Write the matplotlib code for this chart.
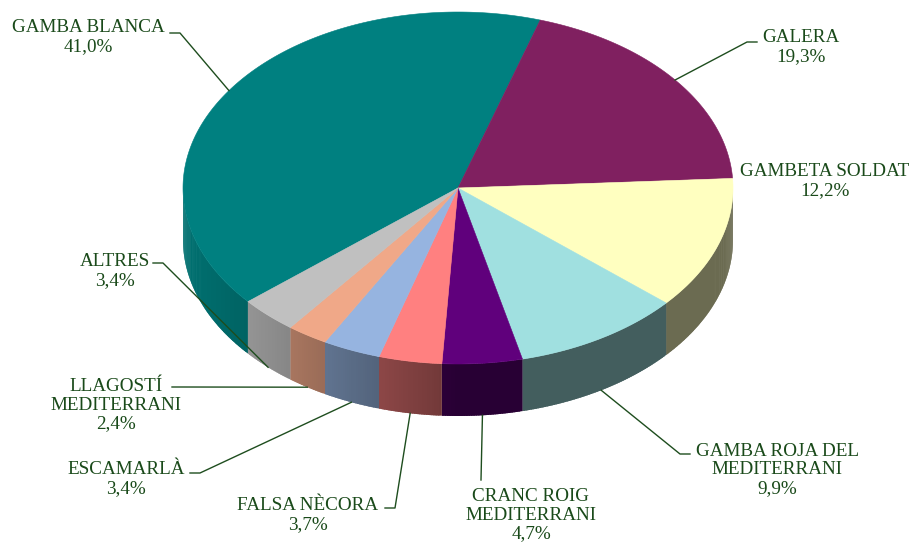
import numpy as np
import matplotlib
matplotlib.use('Agg')
import matplotlib.pyplot as plt
from matplotlib.patches import Polygon
from matplotlib.colors import to_rgb

# 数据
labels = ['GAMBA BLANCA', 'GALERA', 'GAMBETA SOLDAT', 'GAMBA ROJA DEL\nMEDITERRANI',
          'CRANC ROIG\nMEDITERRANI', 'FALSA NÈCORA', 'ESCAMARLÀ',
          'LLAGOSTÍ\nMEDITERRANI', 'ALTRES']
values = [41.0, 19.3, 12.2, 9.9, 4.7, 3.7, 3.4, 2.4, 3.4]
colors = ['#008080', '#802060', '#FFFFC0', '#A0E0E0', '#60007C',
          '#FF8080', '#96B4E0', '#F0A888', '#C0C0C0']

# 布局 (像素坐标)
cx, cy, rx, ry, depth = 458, 188, 275, 176, 52
start_angle = 220.2
# 标签中心, 引线起点
label_pos = [(88, 37), (801, 47), (825, 181), (777, 470), (531, 515),
             (308, 515), (126, 479), (116, 405), (115, 271)]
leader_start = [(170, 33), (757, 42), None, (690, 454), (481, 480),
                (385, 508), (190, 473), (172, 387), (153, 263)]
text_color = '#1A4A1A'
line_color = '#1E4D1E'

fig = plt.figure(figsize=(9.16, 5.44), dpi=100)
ax = fig.add_axes([0, 0, 1, 1])
ax.set_xlim(0, 916)
ax.set_ylim(544, 0)
ax.axis('off')


def pt(t_deg, dz=0):
    t = np.radians(t_deg)
    return cx + rx * np.cos(t), cy - ry * np.sin(t) + dz


total = sum(values)
angles = []
a = start_angle
for v in values:
    span = v / total * 360
    angles.append((a, a - span))
    a -= span

# 侧面 (分条渐变)
for (a0, a1), c in zip(angles, colors):
    base = np.array(to_rgb(c))
    ts = np.arange(a0, a1, -0.5)
    ts = np.append(ts, a1)
    for t0, t1 in zip(ts[:-1], ts[1:]):
        tm = np.radians((t0 + t1) / 2)
        if np.sin(tm) >= 0:
            continue
        f = 0.42 + 0.46 * max(-np.cos(tm), 0)
        col = np.clip(base * f, 0, 1)
        t1e = max(t1 - 0.4, a1)  # 稍微重叠, 避免缝隙
        arc = [pt(t) for t in np.linspace(t0, t1e, 3)]
        arc_b = [pt(t, depth) for t in np.linspace(t1e, t0, 3)]
        ax.add_patch(Polygon(arc + arc_b, closed=True, facecolor=col,
                             edgecolor='none', lw=0))

# 顶面
for (a0, a1), c in zip(angles, colors):
    ts = np.linspace(a0, a1, 200)
    pts = [(cx, cy)] + [pt(t) for t in ts]
    ax.add_patch(Polygon(pts, closed=True, facecolor=c, edgecolor=c, lw=0.4))

# 标签和引线
for lab, v, (a0, a1), lp, ls in zip(labels, values, angles, label_pos, leader_start):
    txt = lab + '\n' + f'{v:.1f}%'.replace('.', ',')
    ax.text(lp[0], lp[1], txt, ha='center', va='center', ma='center',
            fontsize=13.8, family='Liberation Serif', color=text_color,
            linespacing=1.1)
    if ls is None:
        continue
    mid = (a0 + a1) / 2
    dz = depth if np.sin(np.radians(mid)) < 0 else 0
    ex, ey = pt(mid, dz)
    xs, ys = [ls[0]], [ls[1]]
    if abs(ex - ls[0]) > 15:
        xs.append(ls[0] + 10 * np.sign(ex - ls[0]))
        ys.append(ls[1])
    xs.append(ex)
    ys.append(ey)
    ax.plot(xs, ys, color=line_color, lw=1)

fig.savefig('out.png', dpi=100)
